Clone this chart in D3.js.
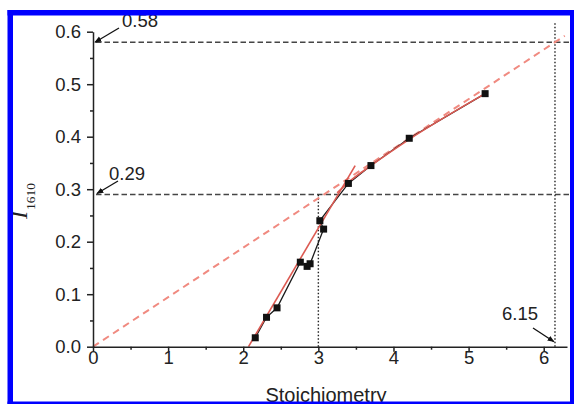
<!DOCTYPE html>
<html>
<head>
<meta charset="utf-8">
<script src="https://cdn.jsdelivr.net/npm/d3@7"></script>
<style>
  html, body { margin: 0; padding: 0; background: #fff; }
  svg { display: block; }
</style>
</head>
<body>
<svg id="chart" width="574" height="404"></svg>
<script>
// Measured points: stoichiometry vs. normalized 1610 band intensity
const stoich = [2.16, 2.31, 2.45, 2.76, 2.85, 2.89, 3.07, 3.02, 3.40, 3.70, 4.21, 5.22];
const i1610  = [0.017, 0.056, 0.074, 0.161, 0.153, 0.158, 0.224, 0.240, 0.311, 0.345, 0.397, 0.482];

// Linear fit of the low-ratio branch (x, y endpoints)
const lowFitX = [2.07, 3.49];
const lowFitY = [0.0, 0.345];

// Fit of the high-ratio branch
const highFitX = [3.25, 3.40, 3.70, 4.21, 5.22];
const highFitY = [0.293, 0.313, 0.345, 0.395, 0.482];

// Reference line through the origin and the marked crossings
const crossX = [3, 6.15];
const crossY = [0.29, 0.58];
const originLineEndX = 6.28;

const xTicks = [0, 1, 2, 3, 4, 5, 6];
const xMinor = [0.5, 1.5, 2.5, 3.5, 4.5, 5.5];
const yTicks = [0, 0.1, 0.2, 0.3, 0.4, 0.5, 0.6];
const yMinor = [0.05, 0.15, 0.25, 0.35, 0.45, 0.55];

const svg = d3.select("#chart");

const x = d3.scaleLinear().domain([0, 6.31]).range([93, 567]);
const y = d3.scaleLinear().domain([0, 0.6]).range([346.7, 31.7]);

const tickFont = "Liberation Sans, Arial, sans-serif";

// arrowhead marker
svg.append("defs").append("marker")
  .attr("id", "arrow")
  .attr("viewBox", "0 0 10 10")
  .attr("refX", 9).attr("refY", 5)
  .attr("markerWidth", 7).attr("markerHeight", 7)
  .attr("markerUnits", "userSpaceOnUse")
  .attr("orient", "auto")
  .append("path").attr("d", "M0,1 L10,5 L0,9 Z").attr("fill", "#111");

// horizontal guide lines at the two crossing levels
svg.selectAll("line.hguide").data(crossY).join("line")
  .attr("class", "hguide")
  .attr("x1", x(0) + 3).attr("x2", 570)
  .attr("y1", d => y(d)).attr("y2", d => y(d))
  .attr("stroke", "#454545").attr("stroke-width", 1.6)
  .attr("stroke-dasharray", "5.5,3");

// vertical dotted drops
svg.append("line")
  .attr("x1", x(crossX[0])).attr("x2", x(crossX[0]))
  .attr("y1", y(0)).attr("y2", y(crossY[0]))
  .attr("stroke", "#222").attr("stroke-width", 1.4)
  .attr("stroke-dasharray", "1.5,2");
svg.append("line")
  .attr("x1", x(crossX[1])).attr("x2", x(crossX[1]))
  .attr("y1", y(0)).attr("y2", y(0.62))
  .attr("stroke", "#222").attr("stroke-width", 1.4)
  .attr("stroke-dasharray", "1.5,2");

// dashed line through the origin
const slope = crossY[1] / crossX[1];
svg.append("line")
  .attr("x1", x(0)).attr("y1", y(0))
  .attr("x2", x(originLineEndX)).attr("y2", y(slope * originLineEndX))
  .attr("stroke", "#f08a80").attr("stroke-width", 2)
  .attr("stroke-dasharray", "7,5");

// data connecting line
const pts = stoich.map((d, i) => [d, i1610[i]]);
const line = d3.line().x(d => x(d[0])).y(d => y(d[1]));
svg.append("path").datum(pts)
  .attr("d", line)
  .attr("fill", "none").attr("stroke", "#1a1a1a").attr("stroke-width", 1.3);

// fit lines
svg.append("path").datum(lowFitX.map((d, i) => [d, lowFitY[i]]))
  .attr("d", line)
  .attr("fill", "none").attr("stroke", "#dc5a52").attr("stroke-width", 1.6);
svg.append("path").datum(highFitX.map((d, i) => [d, highFitY[i]]))
  .attr("d", line.curve(d3.curveMonotoneX))
  .attr("fill", "none").attr("stroke", "#dc5a52").attr("stroke-width", 1.6);

// square markers
const ms = 7;
svg.selectAll("rect.pt").data(pts).join("rect")
  .attr("class", "pt")
  .attr("x", d => x(d[0]) - ms / 2).attr("y", d => y(d[1]) - ms / 2)
  .attr("width", ms).attr("height", ms)
  .attr("fill", "#111");

// axes
function styleAxis(g) {
  g.selectAll("path.domain").attr("stroke", "#222").attr("stroke-width", 1.5);
  g.selectAll(".tick line").attr("stroke", "#222").attr("stroke-width", 1.5);
  g.selectAll(".tick text").attr("fill", "#222")
    .style("font-family", tickFont).style("font-size", "18.5px");
}

const gx = svg.append("g").attr("transform", `translate(0,${y(0)})`)
  .call(d3.axisBottom(x).tickValues(xTicks).tickFormat(d3.format("d"))
    .tickSize(5).tickSizeOuter(0).tickPadding(-1));
styleAxis(gx);
const gxm = svg.append("g").attr("transform", `translate(0,${y(0)})`)
  .call(d3.axisBottom(x).tickValues(xMinor).tickFormat("").tickSize(3).tickSizeOuter(0));
gxm.select("path.domain").remove();
styleAxis(gxm);

const gy = svg.append("g").attr("transform", `translate(${x(0)},0)`)
  .call(d3.axisLeft(y).tickValues(yTicks).tickFormat(d3.format(".1f"))
    .tickSize(6).tickSizeOuter(0).tickPadding(6));
styleAxis(gy);
const gym = svg.append("g").attr("transform", `translate(${x(0)},0)`)
  .call(d3.axisLeft(y).tickValues(yMinor).tickFormat("").tickSize(3).tickSizeOuter(0));
gym.select("path.domain").remove();
styleAxis(gym);

// annotations with arrows
const notes = [
  { text: "0.58", tx: 122, ty: 27, ax1: 119, ay1: 28, ax2: x(0) + 2, ay2: y(crossY[1]) },
  { text: "0.29", tx: 109, ty: 180, ax1: 118, ay1: 181, ax2: x(0) + 4, ay2: y(crossY[0]) - 1 },
  { text: "6.15", tx: 502, ty: 319.5, ax1: 533, ay1: 328, ax2: x(crossX[1]) - 1, ay2: y(0) - 5 }
];
svg.selectAll("line.arrow").data(notes).join("line")
  .attr("class", "arrow")
  .attr("x1", d => d.ax1).attr("y1", d => d.ay1)
  .attr("x2", d => d.ax2).attr("y2", d => d.ay2)
  .attr("stroke", "#111").attr("stroke-width", 1.3)
  .attr("marker-end", "url(#arrow)");
svg.selectAll("text.note").data(notes).join("text")
  .attr("class", "note")
  .attr("x", d => d.tx).attr("y", d => d.ty)
  .attr("fill", "#222")
  .style("font-family", tickFont).style("font-size", "18.5px")
  .text(d => d.text);

// axis titles
svg.append("text")
  .attr("x", 326).attr("y", 401.5)
  .attr("text-anchor", "middle")
  .attr("fill", "#222")
  .style("font-family", tickFont).style("font-size", "20px")
  .text("Stoichiometry");

const yTitle = svg.append("text")
  .attr("transform", "translate(27,219) rotate(-90)")
  .attr("fill", "#222")
  .style("font-family", "Liberation Serif, Times New Roman, serif");
yTitle.append("tspan").style("font-style", "italic").style("font-size", "24px").text("I");
yTitle.append("tspan").attr("dy", 8).attr("dx", 1).style("font-size", "13.5px").text("1610");

// blue frame
const frame = svg.append("g").attr("fill", "#0000ff");
frame.append("rect").attr("x", 7.5).attr("y", 10).attr("width", 5.5).attr("height", 394);
frame.append("rect").attr("x", 7.5).attr("y", 10).attr("width", 566.5).attr("height", 5.5);
frame.append("rect").attr("x", 570).attr("y", 10).attr("width", 4).attr("height", 394);
frame.append("rect").attr("x", 7.5).attr("y", 401.5).attr("width", 566.5).attr("height", 2.5);
</script>
</body>
</html>
